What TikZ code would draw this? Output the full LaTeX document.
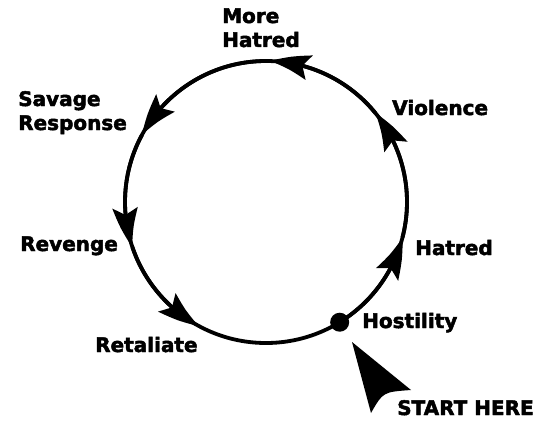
\documentclass[tikz,border=0pt]{standalone}
\usepackage{fontspec}
\newfontfamily\lblfont[FakeBold=2.4]{DejaVu Sans Bold}
\usetikzlibrary{arrows.meta,bending}
\begin{document}
\begin{tikzpicture}[x=1pt,y=1pt,
  lbl/.style={font=\lblfont\fontsize{20}{24}\selectfont, inner sep=0pt, anchor=base west, align=left},
  cyc/.style={line width=3.8pt},
  tipped/.style={-{Stealth[length=40pt,width=25pt,inset=7pt,bend]}},
]
\useasboundingbox (0,0) rectangle (548,424);
\coordinate (c) at (266,222);
\coordinate (p0) at ([shift={(-58.5:141)}]c);
\coordinate (p1) at ([shift={(-14.6:141)}]c);
\coordinate (p2) at ([shift={(39.2:141)}]c);
\coordinate (p3) at ([shift={(88.4:141)}]c);
\coordinate (p4) at ([shift={(151.6:141)}]c);
\coordinate (p5) at ([shift={(198.6:141)}]c);
\coordinate (p6) at ([shift={(241.6:141)}]c);
\draw[cyc] (c) circle[radius=141];
\draw[cyc,tipped] (p0) arc[start angle=-58.5,end angle=-14.6,radius=141];
\draw[cyc,tipped] (p1) arc[start angle=-14.6,end angle=39.2,radius=141];
\draw[cyc,tipped] (p2) arc[start angle=39.2,end angle=88.4,radius=141];
\draw[cyc,tipped] (p3) arc[start angle=88.4,end angle=151.6,radius=141];
\draw[cyc,tipped] (p4) arc[start angle=151.6,end angle=198.6,radius=141];
\draw[cyc,tipped] (p5) arc[start angle=198.6,end angle=241.6,radius=141];
\node[circle, fill, inner sep=0pt, minimum size=19pt] (hdot) at (p0) {};
\coordinate (st) at (352,82);
\coordinate (sa) at (411,34);
\coordinate (sb) at (371,11);
\fill (st) -- (sa) .. controls (383,32) .. (sb) -- cycle;
\node[lbl] (morehatred) at (222,377) {More\\Hatred};
\node[lbl] (violence) at (392,309) {Violence};
\node[lbl] (savage) at (18,294) {Savage\\Response};
\node[lbl] (revenge) at (20,173) {Revenge};
\node[lbl] (retaliate) at (95,72) {Retaliate};
\node[lbl] (hatred) at (415,169) {Hatred};
\node[lbl] (hostility) at (362,96) {Hostility};
\node[lbl] (start) at (397,9) {START HERE};
\end{tikzpicture}
\end{document}
